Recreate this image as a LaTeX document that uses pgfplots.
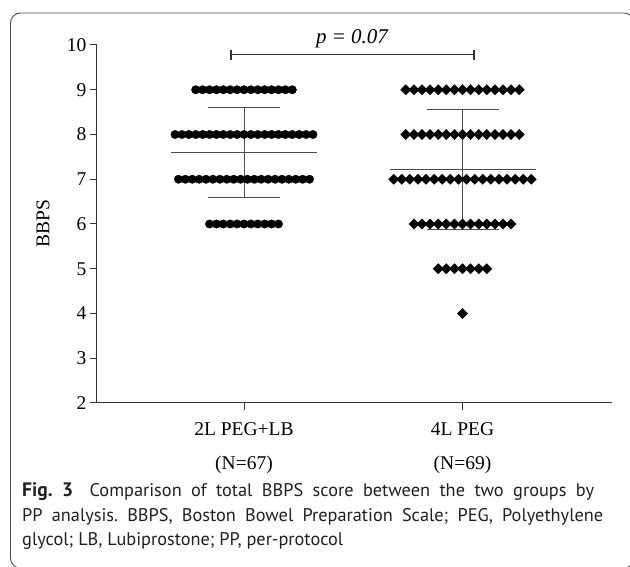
\documentclass[border=0pt]{standalone}
\usepackage{pgfplots}
\pgfplotsset{compat=1.18}
\usepackage{fontspec}
\setmainfont{Liberation Serif}
\newfontfamily\capfont{PT Sans}
\definecolor{capcol}{HTML}{231F20}
\begin{document}
\frenchspacing
\begin{tikzpicture}[x=1pt,y=1pt]
\useasboundingbox (0,0) rectangle (630,567);
\draw[black!70, line width=0.9pt, rounded corners=10pt] (10.5,-1) rectangle (634,554);
\begin{axis}[
  at={(97pt,164pt)}, anchor=south west,
  scale only axis, width=515pt, height=358pt,
  xmin=0, xmax=515, ymin=2, ymax=10,
  axis lines=left,
  axis line style={-, line width=1pt, black!80},
  xtick={147,365.5},
  xticklabels={{2L PEG+LB\\[12pt](N=67)},{4L PEG\\[12pt](N=69)}},
  ytick={2,3,4,5,6,7,8,9,10},
  tick align=outside, major tick length=7pt,
  tick style={line width=1pt, black!80},
  ticklabel style={font=\fontsize{19.5}{22}\selectfont},
  xticklabel style={align=center, yshift=-9pt},
  /pgf/number format/assume math mode=true,
  ylabel={BBPS},
  every axis y label/.style={at={(axis description cs:-0.105,0.5)},rotate=90,anchor=center,font=\fontsize{19.5}{22}\selectfont},
  clip=false,
]
% 2L PEG+LB (N=67)
\addplot[only marks, mark=*, mark size=4.2pt, black] coordinates {
 (98.7,9) (105.6,9) (112.5,9) (119.4,9) (126.3,9) (133.2,9) (140.1,9) (147,9) (153.9,9) (160.8,9) (167.7,9) (174.6,9) (181.5,9) (188.4,9) (195.3,9)
 (78,8) (84.9,8) (91.8,8) (98.7,8) (105.6,8) (112.5,8) (119.4,8) (126.3,8) (133.2,8) (140.1,8) (147,8) (153.9,8) (160.8,8) (167.7,8) (174.6,8) (181.5,8) (188.4,8) (195.3,8) (202.2,8) (209.1,8) (216,8)
 (81.45,7) (88.35,7) (95.25,7) (102.15,7) (109.05,7) (115.95,7) (122.85,7) (129.75,7) (136.65,7) (143.55,7) (150.45,7) (157.35,7) (164.25,7) (171.15,7) (178.05,7) (184.95,7) (191.85,7) (198.75,7) (205.65,7) (212.55,7)
 (112.5,6) (119.4,6) (126.3,6) (133.2,6) (140.1,6) (147,6) (153.9,6) (160.8,6) (167.7,6) (174.6,6) (181.5,6)
};
% 4L PEG (N=69)
\addplot[only marks, mark=square*, mark size=3.6pt, mark options={rotate=45}, black] coordinates {
 (308.8,9) (316.9,9) (325,9) (333.1,9) (341.2,9) (349.3,9) (357.4,9) (365.5,9) (373.6,9) (381.7,9) (389.8,9) (397.9,9) (406,9) (414.1,9) (422.2,9)
 (308.8,8) (316.9,8) (325,8) (333.1,8) (341.2,8) (349.3,8) (357.4,8) (365.5,8) (373.6,8) (381.7,8) (389.8,8) (397.9,8) (406,8) (414.1,8) (422.2,8)
 (296.65,7) (304.75,7) (312.85,7) (320.95,7) (329.05,7) (337.15,7) (345.25,7) (353.35,7) (361.45,7) (369.55,7) (377.65,7) (385.75,7) (393.85,7) (401.95,7) (410.05,7) (418.15,7) (426.25,7) (434.35,7)
 (316.9,6) (325,6) (333.1,6) (341.2,6) (349.3,6) (357.4,6) (365.5,6) (373.6,6) (381.7,6) (389.8,6) (397.9,6) (406,6) (414.1,6)
 (341.2,5) (349.3,5) (357.4,5) (365.5,5) (373.6,5) (381.7,5) (389.8,5)
 (365.5,4)
};
% mean +/- SD
\addplot[black!70, line width=0.9pt] coordinates {(74,7.597) (220,7.597)};
\addplot[black!70, line width=0.9pt] coordinates {(111,8.61) (183,8.61)};
\addplot[black!70, line width=0.9pt] coordinates {(111,6.585) (183,6.585)};
\addplot[black!70, line width=0.9pt] coordinates {(147,6.585) (147,8.61)};
\addplot[black!70, line width=0.9pt] coordinates {(292.5,7.217) (438.5,7.217)};
\addplot[black!70, line width=0.9pt] coordinates {(329.5,8.555) (401.5,8.555)};
\addplot[black!70, line width=0.9pt] coordinates {(329.5,5.88) (401.5,5.88)};
\addplot[black!70, line width=0.9pt] coordinates {(365.5,5.88) (365.5,8.555)};
% significance bracket
\addplot[black!80, line width=1pt] coordinates {(134,9.78) (377,9.78)};
\addplot[black!80, line width=1.3pt] coordinates {(134,9.67) (134,9.89)};
\addplot[black!80, line width=1.3pt] coordinates {(377,9.67) (377,9.89)};
\node[font=\itshape\fontsize{21}{24}\selectfont, anchor=base] at (axis cs:255,10.03) {p = 0.07};
\end{axis}
\begin{scope}[every node/.style={anchor=base west, inner sep=0pt, text=capcol, font=\capfont\fontsize{18.3}{21}\selectfont}]
\node at (22,70) {\makebox[572pt][s]{{\fontsize{19.5}{21}\selectfont\textbf{Fig.~3}}\hspace{0.9em}Comparison of total BBPS score between the two groups by}};
\node at (22,45) {\makebox[581pt][s]{PP analysis. BBPS, Boston Bowel Preparation Scale; PEG, Polyethylene}};
\node at (22,21) {glycol; LB, Lubiprostone; PP, per-protocol};
\end{scope}
\end{tikzpicture}
\end{document}
